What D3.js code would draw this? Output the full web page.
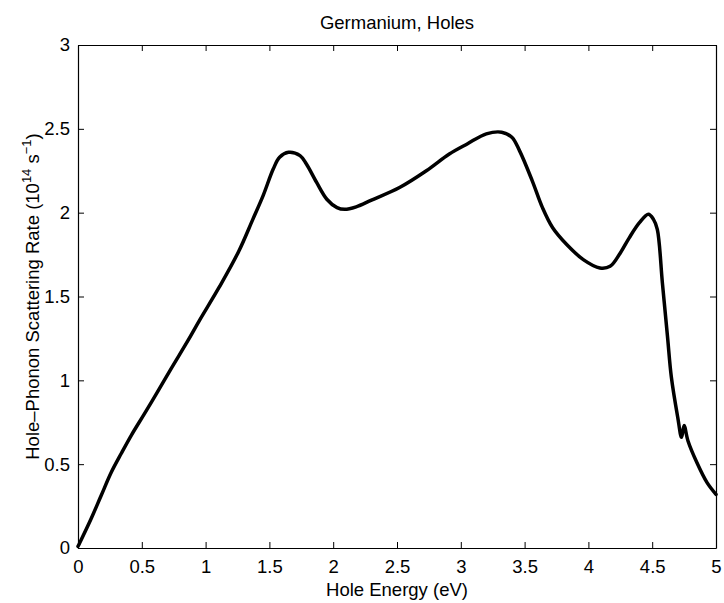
<!DOCTYPE html>
<html lang="en">
<head>
  <meta charset="UTF-8">
  <title>Germanium, Holes</title>
  <script src="https://cdn.jsdelivr.net/npm/d3@7"></script>
  <style>
    body { margin: 0; background: #fff; }
    text { font-family: "Liberation Sans", Arial, Helvetica, sans-serif; fill: #000; }
  </style>
</head>
<body>
  <svg width="724" height="603"></svg>
  <script>
    // hole energy (eV)
    var energy = [0, 0.013, 0.10, 0.18, 0.26, 0.34, 0.42, 0.52, 0.63, 0.73,
      0.86, 0.95, 1.11, 1.26, 1.37, 1.45, 1.53, 1.58, 1.65, 1.74, 1.79, 1.87,
      1.95, 2.03, 2.09, 2.18, 2.30, 2.52, 2.73, 2.91, 3.05, 3.20, 3.32, 3.40,
      3.46, 3.56, 3.64, 3.72, 3.83, 3.96, 4.09, 4.17, 4.25, 4.32, 4.40, 4.47,
      4.51, 4.54, 4.58, 4.62, 4.65, 4.70, 4.73, 4.75, 4.78, 4.85, 4.93, 5.0];
    // hole-phonon scattering rate (1e14 1/s)
    var rate = [0.01, 0.03, 0.17, 0.31, 0.45, 0.565, 0.675, 0.80, 0.94, 1.07,
      1.235, 1.355, 1.56, 1.77, 1.96, 2.10, 2.26, 2.33, 2.36, 2.34, 2.29, 2.18,
      2.08, 2.03, 2.02, 2.035, 2.075, 2.15, 2.25, 2.35, 2.41, 2.47, 2.48, 2.45,
      2.37, 2.19, 2.03, 1.91, 1.81, 1.72, 1.67, 1.68, 1.76, 1.85, 1.94, 1.99,
      1.96, 1.90, 1.58, 1.26, 1.02, 0.78, 0.66, 0.73, 0.64, 0.51, 0.39, 0.32];

    var xTicks = [0, 0.5, 1, 1.5, 2, 2.5, 3, 3.5, 4, 4.5, 5];
    var yTicks = [0, 0.5, 1, 1.5, 2, 2.5, 3];

    var margin = { top: 45, right: 8, bottom: 55, left: 78 };
    var svg = d3.select('svg');
    var width = +svg.attr('width') - margin.left - margin.right;
    var height = +svg.attr('height') - margin.top - margin.bottom;
    var fontSize = 18.5;

    var g = svg.append('g')
      .attr('transform', 'translate(' + margin.left + ',' + margin.top + ')');

    var x = d3.scaleLinear().domain([0, 5]).range([0, width]);
    var y = d3.scaleLinear().domain([0, 3]).range([height, 0]);

    var fmt = function(d) { return String(d); };

    // axes with inward ticks, box on
    g.append('g')
      .attr('transform', 'translate(0,' + height + ')')
      .call(d3.axisBottom(x).tickValues(xTicks).tickFormat(fmt).tickSizeInner(-6).tickSizeOuter(0).tickPadding(12));
    g.append('g')
      .call(d3.axisLeft(y).tickValues(yTicks).tickFormat(fmt).tickSizeInner(-6).tickSizeOuter(0).tickPadding(8));
    g.append('g')
      .call(d3.axisTop(x).tickValues(xTicks).tickFormat('').tickSizeInner(-6).tickSizeOuter(0));
    g.append('g')
      .attr('transform', 'translate(' + width + ',0)')
      .call(d3.axisRight(y).tickValues(yTicks).tickFormat('').tickSizeInner(-6).tickSizeOuter(0));

    g.selectAll('.domain').attr('stroke', '#000').attr('stroke-width', 1.2);
    g.selectAll('.tick line').attr('stroke', '#000');
    g.selectAll('.tick text')
      .style('font-size', fontSize + 'px')
      .style('font-family', '"Liberation Sans", Arial, Helvetica, sans-serif')
      .attr('fill', '#000');

    var line = d3.line()
      .x(function(d, i) { return x(energy[i]); })
      .y(function(d) { return y(d); })
      .curve(d3.curveCatmullRom.alpha(0.5));

    g.append('path')
      .datum(rate)
      .attr('fill', 'none')
      .attr('stroke', '#000')
      .attr('stroke-width', 3.5)
      .attr('stroke-linejoin', 'round')
      .attr('stroke-linecap', 'round')
      .attr('d', line);

    // title
    svg.append('text')
      .attr('x', margin.left + width / 2)
      .attr('y', 29)
      .attr('text-anchor', 'middle')
      .style('font-size', fontSize + 'px')
      .text('Germanium, Holes');

    // x label
    svg.append('text')
      .attr('x', margin.left + width / 2)
      .attr('y', 596)
      .attr('text-anchor', 'middle')
      .style('font-size', fontSize + 'px')
      .text('Hole Energy (eV)');

    // y label with superscripts
    var yl = svg.append('text')
      .attr('transform', 'translate(39,' + (margin.top + height / 2) + ') rotate(-90)')
      .attr('text-anchor', 'middle')
      .style('font-size', fontSize + 'px');
    yl.append('tspan').text('Hole\u2013Phonon Scattering Rate (10');
    yl.append('tspan').attr('dy', -8).style('font-size', '13px').text('14');
    yl.append('tspan').attr('dy', 8).text(' s');
    yl.append('tspan').attr('dy', -8).style('font-size', '13px').text('\u22121');
    yl.append('tspan').attr('dy', 8).text(')');
  </script>
</body>
</html>
